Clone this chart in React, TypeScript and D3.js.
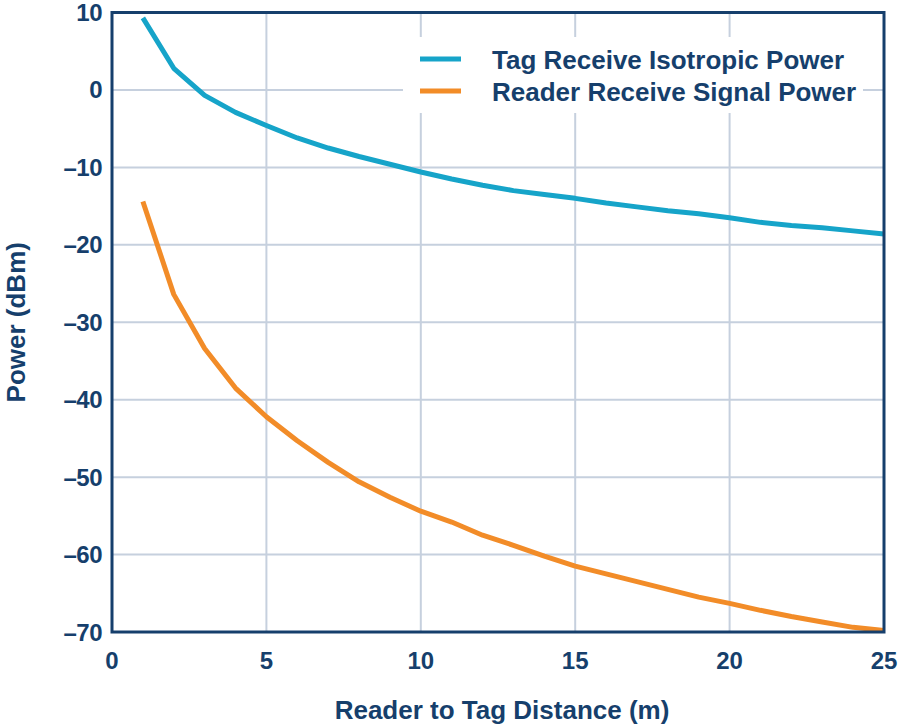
import { useEffect, useRef } from "react"
import * as d3 from "d3"

// Reader to tag distance (m)
const distance = [1, 2, 3, 4, 5, 6, 7, 8, 9, 10, 11, 12, 13, 14, 15, 16, 17, 18, 19, 20, 21, 22, 23, 24, 25]

// Power (dBm)
const tagPower = [
  9.3, 2.8, -0.7, -2.9, -4.6, -6.2, -7.5, -8.6, -9.6, -10.6, -11.5, -12.3, -13.0, -13.5, -14.0, -14.6, -15.1,
  -15.6, -16.0, -16.5, -17.1, -17.5, -17.8, -18.2, -18.6,
]
const readerPower = [
  -14.4, -26.4, -33.4, -38.5, -42.2, -45.3, -48.1, -50.6, -52.6, -54.4, -55.8, -57.5, -58.8, -60.2, -61.5, -62.5,
  -63.5, -64.5, -65.5, -66.3, -67.2, -68.0, -68.7, -69.4, -69.8,
]

const seriesNames = ["Tag Receive Isotropic Power", "Reader Receive Signal Power"]
const seriesColors = ["#16a4c9", "#f28c28"]

const xTicks = [0, 5, 10, 15, 20, 25]
const yTicks = [10, 0, -10, -20, -30, -40, -50, -60, -70]

const xTitle = "Reader to Tag Distance (m)"
const yTitle = "Power (dBm)"

export default function App() {
  const svgRef = useRef<SVGSVGElement>(null)

  const width = 900
  const height = 728
  const margin = { top: 12.5, right: 16, bottom: 96, left: 112 }

  useEffect(() => {
    const svg = d3.select(svgRef.current)
    svg.selectAll("*").remove()

    const ink = "#163f6c"
    const font = "'Liberation Sans', Arial, Helvetica, sans-serif"

    const x = d3.scaleLinear().domain([0, 25]).range([margin.left, width - margin.right])
    const y = d3.scaleLinear().domain([-70, 10]).range([height - margin.bottom, margin.top])

    // grid
    const grid = svg.append("g").attr("stroke", "#c6d0de").attr("stroke-width", 2)
    grid
      .selectAll("line.v")
      .data(xTicks.slice(1, -1))
      .join("line")
      .attr("x1", (d) => x(d))
      .attr("x2", (d) => x(d))
      .attr("y1", y(10))
      .attr("y2", y(-70))
    grid
      .selectAll("line.h")
      .data(yTicks.slice(1, -1))
      .join("line")
      .attr("x1", x(0))
      .attr("x2", x(25))
      .attr("y1", (d) => y(d))
      .attr("y2", (d) => y(d))

    // legend box covers the grid
    const legend = svg.append("g")
    legend.append("rect").attr("x", 403).attr("y", 37).attr("width", 460).attr("height", 76).attr("fill", "#fff")

    // lines
    const line = d3
      .line<number>()
      .x((_, i) => x(distance[i]))
      .y((d) => y(d))

    ;[tagPower, readerPower].forEach((values, i) => {
      svg
        .append("path")
        .datum(values)
        .attr("fill", "none")
        .attr("stroke", seriesColors[i])
        .attr("stroke-width", 5)
        .attr("stroke-linejoin", "round")
        .attr("d", line)
    })

    // frame
    svg
      .append("rect")
      .attr("x", x(0))
      .attr("y", y(10))
      .attr("width", x(25) - x(0))
      .attr("height", y(-70) - y(10))
      .attr("fill", "none")
      .attr("stroke", ink)
      .attr("stroke-width", 3)

    // tick labels
    svg
      .append("g")
      .selectAll("text")
      .data(xTicks)
      .join("text")
      .attr("x", (d) => x(d))
      .attr("y", height - margin.bottom + 37)
      .attr("text-anchor", "middle")
      .attr("font-family", font)
      .attr("font-weight", "bold")
      .attr("font-size", 24)
      .attr("fill", ink)
      .text((d) => String(d))

    svg
      .append("g")
      .selectAll("text")
      .data(yTicks)
      .join("text")
      .attr("x", margin.left - 10)
      .attr("y", (d) => y(d) + 8.5)
      .attr("text-anchor", "end")
      .attr("font-family", font)
      .attr("font-weight", "bold")
      .attr("font-size", 24)
      .attr("letter-spacing", -0.5)
      .attr("fill", ink)
      .text((d) => (d < 0 ? "\u2013" + Math.abs(d) : String(d)))

    // axis titles
    svg
      .append("text")
      .attr("x", (x(0) + x(25)) / 2 + 4)
      .attr("y", 719)
      .attr("text-anchor", "middle")
      .attr("font-family", font)
      .attr("font-weight", "bold")
      .attr("font-size", 26)
      .attr("fill", ink)
      .text(xTitle)

    svg
      .append("text")
      .attr("transform", `translate(25,${(y(10) + y(-70)) / 2}) rotate(-90)`)
      .attr("text-anchor", "middle")
      .attr("font-family", font)
      .attr("font-weight", "bold")
      .attr("font-size", 26)
      .attr("fill", ink)
      .text(yTitle)

    // legend entries
    seriesNames.forEach((name, i) => {
      const ly = 59 + i * 32
      legend
        .append("line")
        .attr("x1", 420)
        .attr("x2", 461)
        .attr("y1", ly)
        .attr("y2", ly)
        .attr("stroke", seriesColors[i])
        .attr("stroke-width", 5)
      legend
        .append("text")
        .attr("x", 492)
        .attr("y", ly + 9.5)
        .attr("font-family", font)
        .attr("font-weight", "bold")
        .attr("font-size", 26)
        .attr("fill", ink)
        .text(name)
    })
  }, [])

  return (
    <svg
      ref={svgRef}
      width={width}
      height={height}
      style={{ position: "absolute", left: 0, top: 0, background: "#fff" }}
    />
  )
}
